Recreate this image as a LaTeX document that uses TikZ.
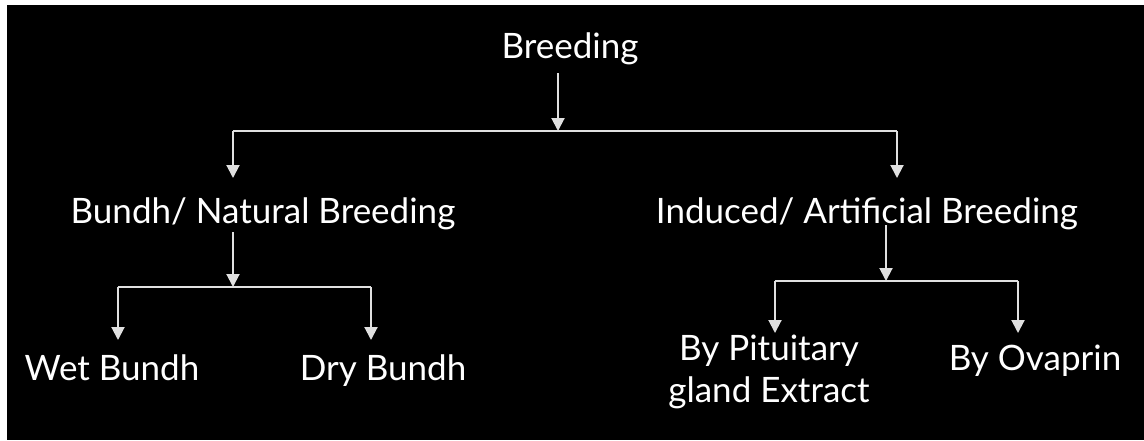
\documentclass[tikz,border=0pt]{standalone}
\usepackage{fontspec}
\setmainfont{Lato}
\usetikzlibrary{arrows.meta}

\begin{document}
\begin{tikzpicture}[x=0.5pt,y=-0.5pt,
    lbl/.style={text=white,inner sep=0pt,anchor=base,font=\fontsize{17.5}{21}\selectfont},
    link/.style={draw=white!88!black,line width=1pt},
    arr/.style={link,-{Triangle[width=6.5pt,length=6.5pt]}}]

    % Background
    \useasboundingbox (0,0) rectangle (1144,440);
    \fill[white] (0,0) rectangle (1144,440);
    \fill[black] (7,5) rectangle (1144,440);

    % Labels
    \node[lbl] (breed) at (570,58) {Breeding};
    \node[lbl] (nat) at (263,223) {Bundh/ Natural Breeding};
    \node[lbl] (ind) at (867,223) {Induced/ Artificial Breeding};
    \node[lbl] (wet) at (112,380) {Wet Bundh};
    \node[lbl] (dry) at (383,380) {Dry Bundh};
    \node[lbl,anchor=north,align=center] (pit) at (769,335) {By Pituitary\\gland Extract};
    \node[lbl] (ova) at (1035,370) {By Ovaprin};

    % Branch points
    \coordinate (top) at (558,131);
    \coordinate (topL) at (233,131);
    \coordinate (topR) at (897,131);
    \coordinate (natJ) at (233,287);
    \coordinate (natL) at (118,287);
    \coordinate (natR) at (371,287);
    \coordinate (indJ) at (886,281);
    \coordinate (indL) at (775,281);
    \coordinate (indR) at (1018,281);

    % Breeding -> two kinds
    \draw[arr,shorten <=7.5pt] (breed.base -| top) -- (top);
    \draw[link] (topL) -- (topR);
    \draw[arr,shorten >=22.5pt] (topL) -- (topL |- nat.base);
    \draw[arr,shorten >=22.5pt] (topR) -- (topR |- ind.base);

    % Natural breeding
    \draw[arr,shorten <=4.5pt] (nat.base -| natJ) -- (natJ);
    \draw[link] (natL) -- (natR);
    \draw[arr,shorten >=20pt] (natL) -- (natL |- wet.base);
    \draw[arr,shorten >=20pt] (natR) -- (natR |- dry.base);

    % Induced breeding
    \draw[arr,shorten <=1pt] (ind.base -| indJ) -- (indJ);
    \draw[link] (indL) -- (indR);
    \draw[arr,shorten >=1pt] (indL) -- (indL |- pit.north);
    \draw[arr,shorten >=18.5pt] (indR) -- (indR |- ova.base);

\end{tikzpicture}
\end{document}
